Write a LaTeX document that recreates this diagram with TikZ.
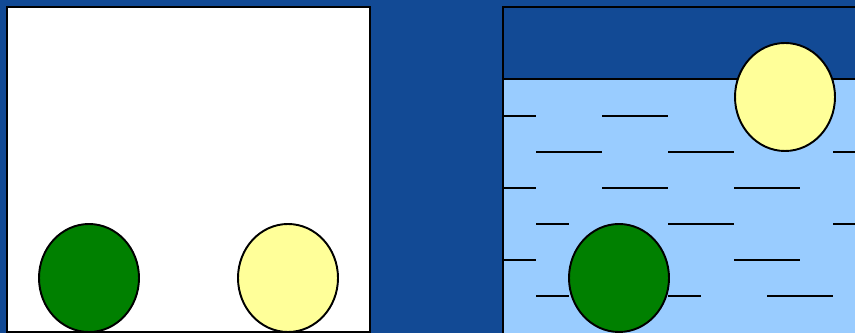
\documentclass[tikz,border=0pt]{standalone}
\usepackage{xcolor}
\usepackage{tikz}
\definecolor{slide}{HTML}{124A95}
\definecolor{water}{HTML}{99CCFF}
\definecolor{ball}{HTML}{FFFF99}
\definecolor{leaf}{HTML}{008000}

\begin{document}
\begin{tikzpicture}[
  x=0.02cm, y=-0.02cm,
  frame/.style={draw=black,line width=1.6pt},
  sphere/.style={draw=black,line width=1.1pt},
  wave/.style={black,line width=1.1pt}
]
\useasboundingbox (0,0) rectangle (855,333);
\clip (0,0) rectangle (855,333);
\fill[slide] (0,0) rectangle (855,333);

% LEFT: empty box
\draw[frame,fill=white] (7,7) rectangle (370,332);
\draw[sphere,fill=leaf] (89,278) ellipse [x radius=50,y radius=54];
\draw[sphere,fill=ball] (288,278) ellipse [x radius=50,y radius=54];

% RIGHT: box with water
\fill[water] (503,79) rectangle (870,340);
\foreach \yy/\xa/\xb in {116/503/536, 116/602/668,
                         152/536/602, 152/668/734, 152/833/870,
                         188/503/536, 188/602/668, 188/734/800,
                         224/536/569, 224/668/734, 224/833/870,
                         260/503/536, 260/734/800,
                         296/536/569, 296/668/701, 296/767/833}
  \draw[wave] (\xa,\yy) -- (\xb,\yy);
\draw[frame] (503,79) -- (870,79);
\draw[frame] (503,7) rectangle (870,340);

\draw[sphere,fill=ball] (785,97) ellipse [x radius=50,y radius=54];
\draw[sphere,fill=leaf] (619,278) ellipse [x radius=50,y radius=54];
\end{tikzpicture}
\end{document}
